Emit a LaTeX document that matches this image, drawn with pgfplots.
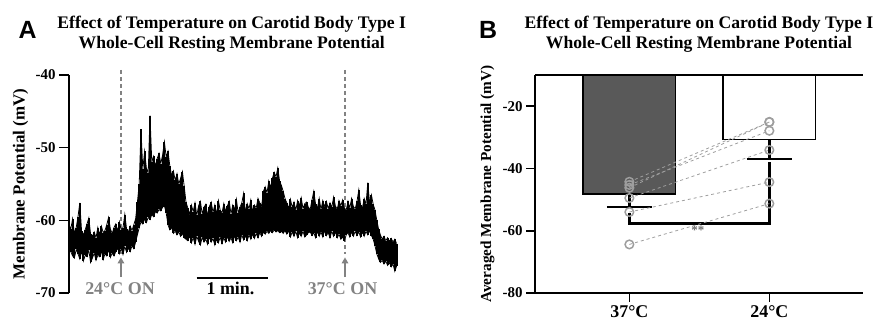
\documentclass[border=0pt]{standalone}
\usepackage{fontspec}
\setmainfont{Liberation Serif}
\newfontfamily\panelfont{Liberation Sans}
\usepackage{pgfplots}
\pgfplotsset{compat=1.18}
\usepackage{pgfplotstable}
\usetikzlibrary{arrows.meta}
\definecolor{darkbar}{RGB}{89,89,89}
\definecolor{ptgray}{RGB}{158,158,158}
\definecolor{anngray}{RGB}{130,130,130}

% Panel A trace: upper / lower envelope every 1.5 s
\pgfplotstableread{
hi lo
-60.6 -63.8
-61.2 -64.3
-59.8 -64.9
-61.8 -65.2
-61.0 -64.0
-59.5 -64.6
-57.6 -65.3
-61.5 -64.2
-62.0 -65.6
-61.3 -64.8
-60.5 -65.0
-59.7 -64.1
-61.9 -65.8
-62.2 -65.2
-61.6 -64.5
-62.4 -65.5
-61.0 -64.8
-62.0 -65.0
-60.8 -64.2
-61.7 -65.4
-61.4 -64.6
-60.6 -64.9
-59.6 -64.0
-61.2 -65.1
-61.8 -64.5
-61.0 -64.9
-60.5 -64.3
-61.5 -63.8
-60.2 -64.6
-61.3 -63.9
-61.0 -64.7
-59.2 -63.6
-61.2 -64.4
-61.6 -63.8
-60.8 -64.3
-61.4 -63.5
-60.6 -63.9
-59.8 -63.0
-57.5 -62.0
-55.0 -61.0
-47.5 -60.2
-53.0 -60.5
-50.5 -59.8
-52.8 -60.3
-53.5 -59.6
-45.6 -59.9
-52.0 -59.2
-51.2 -59.5
-52.6 -58.8
-51.5 -59.0
-50.8 -58.5
-52.2 -58.7
-51.0 -58.2
-49.2 -58.0
-51.3 -59.0
-50.5 -60.6
-52.5 -61.3
-53.8 -61.0
-53.2 -61.8
-54.5 -61.5
-53.6 -62.0
-55.0 -61.6
-54.2 -62.2
-53.3 -61.8
-55.3 -62.4
-57.5 -62.6
-58.3 -62.8
-59.2 -62.1
-57.9 -63.1
-58.8 -62.4
-57.6 -63.3
-59.3 -62.2
-58.0 -62.9
-57.4 -63.4
-59.1 -62.3
-58.2 -63.0
-57.8 -62.6
-59.4 -63.3
-58.1 -62.2
-57.5 -63.0
-58.9 -62.5
-57.9 -63.4
-59.2 -62.6
-57.3 -63.1
-58.6 -62.3
-59.0 -63.2
-57.7 -62.4
-58.8 -63.0
-58.0 -62.2
-57.4 -62.9
-59.1 -62.4
-57.9 -63.1
-58.5 -62.1
-57.1 -62.8
-59.0 -62.3
-58.2 -63.0
-57.6 -62.0
-56.3 -62.7
-58.9 -62.1
-57.7 -62.8
-58.4 -62.0
-57.2 -62.6
-58.8 -61.9
-57.9 -62.5
-58.3 -61.8
-57.0 -62.4
-57.6 -61.7
-58.1 -62.2
-56.0 -61.6
-55.4 -61.9
-56.2 -61.5
-54.6 -61.8
-55.5 -61.4
-54.2 -61.7
-53.4 -61.3
-54.0 -61.6
-52.8 -61.4
-54.6 -61.7
-55.2 -61.5
-56.0 -61.8
-57.0 -61.4
-57.6 -61.9
-58.4 -61.4
-57.1 -62.3
-58.2 -61.6
-57.5 -62.2
-58.6 -61.5
-57.3 -62.4
-58.0 -61.7
-56.9 -62.2
-58.4 -61.5
-57.7 -62.3
-57.5 -62.0
-58.2 -61.7
-58.5 -61.6
-57.2 -62.1
-56.0 -61.7
-57.8 -62.4
-58.3 -61.5
-57.0 -62.2
-58.5 -61.6
-57.3 -62.3
-58.1 -61.4
-57.4 -62.1
-58.4 -61.7
-57.6 -62.4
-58.2 -61.5
-56.8 -62.2
-58.0 -61.6
-58.5 -62.4
-57.3 -61.9
-58.0 -62.6
-57.2 -62.3
-58.3 -62.8
-58.6 -62.0
-57.4 -61.7
-58.3 -62.3
-57.0 -61.6
-58.1 -62.2
-58.4 -61.5
-57.4 -62.1
-55.8 -61.6
-57.9 -62.3
-58.3 -61.6
-57.0 -62.2
-57.8 -61.5
-54.8 -62.0
-57.6 -61.4
-56.5 -62.1
-57.8 -62.6
-58.6 -63.5
-60.0 -64.6
-61.2 -65.3
-62.0 -65.8
-62.6 -65.5
-62.2 -66.0
-62.8 -65.6
-62.4 -66.2
-62.9 -65.8
-62.5 -66.4
-63.0 -66.0
-62.6 -67.0
-63.2 -66.3
}\traceA

\begin{document}
\begin{tikzpicture}
\useasboundingbox (0bp,0bp) rectangle (877bp,323bp);

% panel letters and titles
\node[anchor=base, font=\panelfont\bfseries\fontsize{25}{25}\selectfont] at (27.5bp,284bp) {A};
\node[anchor=base, font=\panelfont\bfseries\fontsize{25}{25}\selectfont] at (488bp,284.7bp) {B};
\node[anchor=base, font=\bfseries\fontsize{17.7}{20}\selectfont] at (231.7bp,294.7bp) {Effect of Temperature on Carotid Body Type I};
\node[anchor=base, font=\bfseries\fontsize{17.7}{20}\selectfont] at (231.7bp,274.7bp) {Whole-Cell Resting Membrane Potential};
\node[anchor=base, font=\bfseries\fontsize{17.7}{20}\selectfont] at (699bp,294.7bp) {Effect of Temperature on Carotid Body Type I};
\node[anchor=base, font=\bfseries\fontsize{17.7}{20}\selectfont] at (699bp,274.7bp) {Whole-Cell Resting Membrane Potential};

% ---------------- Panel A ----------------
\begin{axis}[
  at={(69bp,30bp)}, anchor=south west, scale only axis,
  width=327.6bp, height=218bp,
  xmin=0, xmax=273, ymin=-70, ymax=-40,
  axis x line=none, axis y line*=left,
  axis line style={-, line width=1.6bp},
  ytick={-70,-60,-50,-40},
  tick align=outside, major tick length=10bp,
  tick style={line width=1.6bp, black},
  /pgf/number format/assume math mode=true,
  yticklabel style={font=\bfseries\fontsize{15}{15}\selectfont},
  ylabel={Membrane Potential (mV)},
  ylabel style={at={(axis description cs:-0.148,0.5)}, anchor=center, font=\bfseries\fontsize{17}{17}\selectfont},
  clip=false,
]
\draw[anngray, dash pattern=on 4bp off 3bp, line width=1.5bp] (axis cs:43.3,-39.3) -- (axis cs:43.3,-64.6);
\draw[anngray, dash pattern=on 4bp off 3bp, line width=1.5bp] (axis cs:230,-39.3) -- (axis cs:230,-64.6);

\addplot[draw=none, mark=none, forget plot,
  error bars/.cd, y dir=minus, y explicit, error mark=none,
  error bar style={line width=2bp, black}]
  table[x expr=\coordindex*1.5, y=hi, y error expr=\thisrow{hi}-\thisrow{lo}] {\traceA};
\addplot[black, line width=0.8bp, mark=none] table[x expr=\coordindex*1.5, y=hi] {\traceA};
\addplot[black, line width=0.8bp, mark=none] table[x expr=\coordindex*1.5, y=lo] {\traceA};

\draw[anngray, line width=1.6bp, -{Triangle[width=6.5bp,length=6bp]}] (axis cs:43.3,-67.8) -- (axis cs:43.3,-65.1);
\draw[anngray, line width=1.6bp, -{Triangle[width=6.5bp,length=6bp]}] (axis cs:230,-67.8) -- (axis cs:230,-65.1);
\node[anchor=base, text=anngray, font=\bfseries\fontsize{18}{18}\selectfont] at (axis cs:42.5,-70.26) {24°C ON};
\node[anchor=base, text=anngray, font=\bfseries\fontsize{18}{18}\selectfont] at (axis cs:227.9,-70.26) {37°C ON};
\draw[line width=2bp] (axis cs:106.4,-67.96) -- (axis cs:166.1,-67.96);
\node[anchor=base, font=\bfseries\fontsize{18}{18}\selectfont] at (axis cs:134.6,-70.26) {1 min.};
\end{axis}

% ---------------- Panel B ----------------
\begin{axis}[
  at={(535bp,30bp)}, anchor=south west, scale only axis,
  width=328bp, height=218bp,
  xmin=-0.674, xmax=1.669, ymin=-80, ymax=-10,
  axis x line*=bottom, axis y line*=left,
  axis line style={-, line width=1.6bp},
  xtick={0,1}, xticklabels={37°C,24°C},
  ytick={-80,-60,-40,-20},
  tick align=outside, major tick length=9bp,
  tick style={line width=1.6bp, black},
  /pgf/number format/assume math mode=true,
  yticklabel style={font=\bfseries\fontsize{15}{15}\selectfont},
  xticklabel style={font=\bfseries\fontsize{18}{18}\selectfont},
  ylabel={Averaged Membrane Potential (mV)},
  ylabel style={at={(axis description cs:-0.1448,0.5)}, anchor=center, font=\bfseries\fontsize{15.3}{15.3}\selectfont},
]
\addplot[ybar, bar width=0.66, bar shift=0pt, fill=darkbar, draw=black, line width=1.6bp] coordinates {(0,-48.3)};
\addplot[ybar, bar width=0.66, bar shift=0pt, fill=white, draw=black, line width=1.6bp] coordinates {(1,-30.7)};
\addplot[draw=none, mark=none,
  error bars/.cd, y dir=minus, y explicit, error mark=none,
  error bar style={line width=2.4bp, black}]
  coordinates {(0,-48.3) -= (0,4.2) (1,-30.7) -= (0,6.2)};
\draw[line width=1.8bp] (axis cs:-0.161,-52.5) -- (axis cs:0.161,-52.5);
\draw[line width=1.8bp] (axis cs:0.837,-36.9) -- (axis cs:1.163,-36.9);
\draw[line width=2.6bp] (axis cs:0,-54.4) -- (axis cs:0,-57.6) -- (axis cs:1,-57.6) -- (axis cs:1,-37.8);
\node[text=anngray!85!black, font=\bfseries\fontsize{13}{13}\selectfont] at (axis cs:0.49,-59.9) {**};

\addplot[ptgray, dashed, line width=0.8bp, mark=o, mark size=4.3bp, mark options={solid, line width=1.5bp}] coordinates {(0,-44.3) (1,-25.1)};
\addplot[ptgray, dashed, line width=0.8bp, mark=o, mark size=4.3bp, mark options={solid, line width=1.5bp}] coordinates {(0,-45.3) (1,-27.9)};
\addplot[ptgray, dashed, line width=0.8bp, mark=o, mark size=4.3bp, mark options={solid, line width=1.5bp}] coordinates {(0,-46.2) (1,-25.1)};
\addplot[ptgray, dashed, line width=0.8bp, mark=o, mark size=4.3bp, mark options={solid, line width=1.5bp}] coordinates {(0,-49.5) (1,-34.1)};
\addplot[ptgray, dashed, line width=0.8bp, mark=o, mark size=4.3bp, mark options={solid, line width=1.5bp}] coordinates {(0,-54.0) (1,-44.4)};
\addplot[ptgray, dashed, line width=0.8bp, mark=o, mark size=4.3bp, mark options={solid, line width=1.5bp}] coordinates {(0,-64.4) (1,-51.3)};
\end{axis}
\draw[line width=1.6bp] (535bp,248bp) -- (863bp,248bp);
\end{tikzpicture}
\end{document}
